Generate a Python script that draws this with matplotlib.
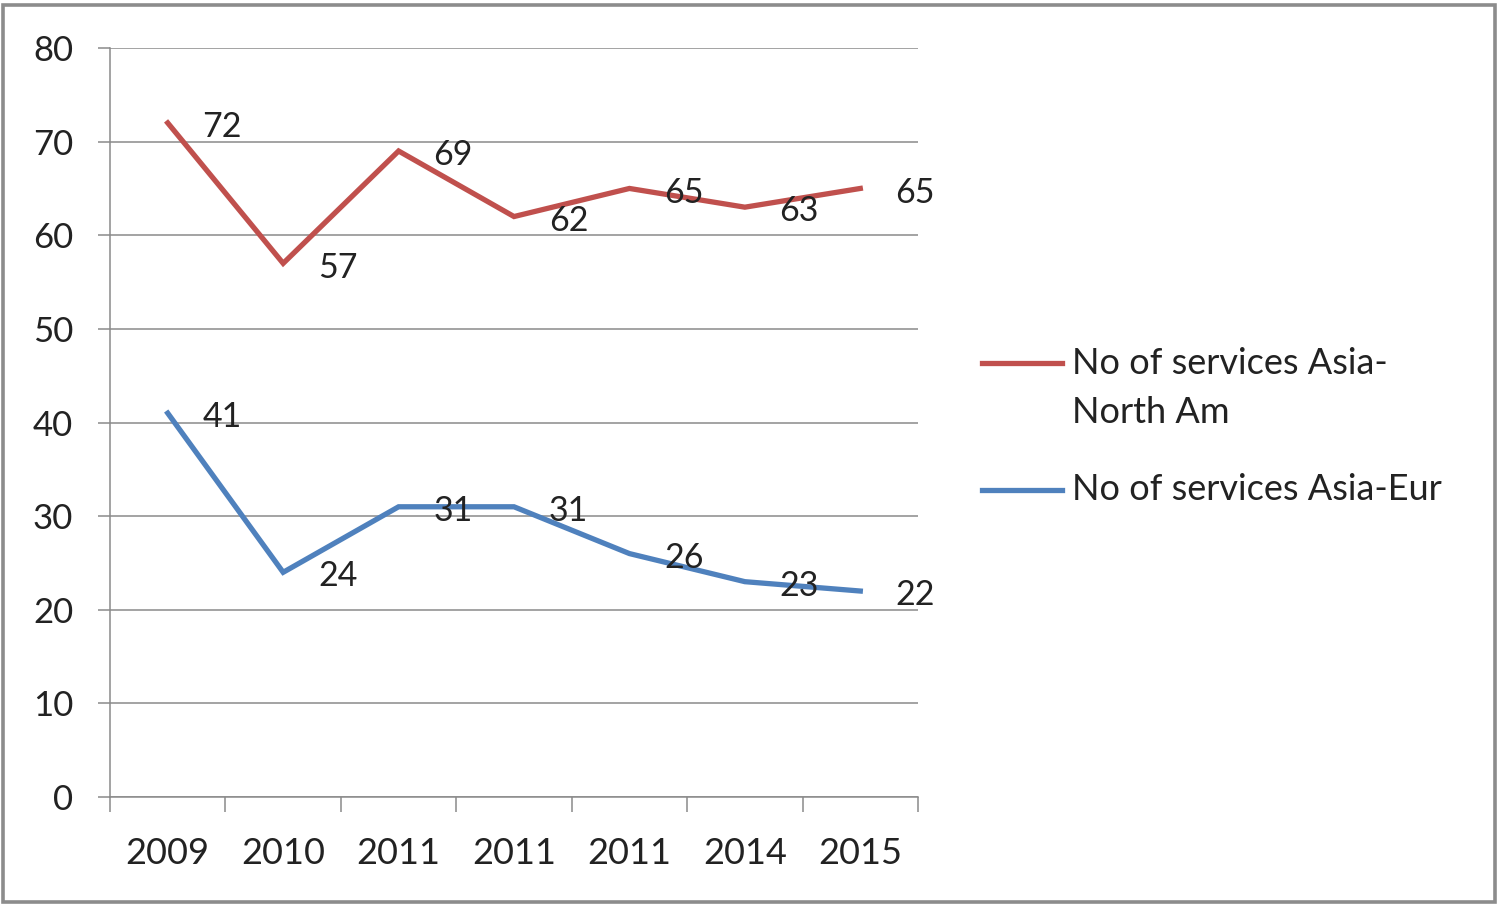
import matplotlib.pyplot as plt
from matplotlib.lines import Line2D
from matplotlib.patches import Rectangle

# data
years = ["2009", "2010", "2011", "2011", "2011", "2014", "2015"]
asia_na = [72, 57, 69, 62, 65, 63, 65]
asia_eur = [41, 24, 31, 31, 26, 23, 22]
labels = ["No of services Asia-\nNorth Am", "No of services Asia-Eur"]
colors = ["#C0504D", "#4F81BD"]

plt.rcParams["font.family"] = ["Lato", "DejaVu Sans"]
txt_col = "#222222"
grid_col = "#8a8a8a"

fig = plt.figure(figsize=(15.01, 9.06), dpi=100)
ax = fig.add_axes([0.0733, 0.1203, 0.5383, 0.8267])

x = list(range(len(years)))
for ys, c in zip([asia_na, asia_eur], colors):
    ax.plot(x, ys, color=c, lw=3.8, solid_joinstyle="miter")
    for xi, yi in zip(x, ys):
        ax.annotate(str(yi), (xi, yi), xytext=(25, -3), textcoords="offset points",
                    ha="left", va="center", fontsize=24.5, color=txt_col)

ax.set_xlim(-0.5, len(years) - 0.5)
ax.set_ylim(0, 80)
ax.set_yticks(range(0, 81, 10))
ax.yaxis.grid(True, color=grid_col, lw=1.1)
ax.set_axisbelow(True)

ax.set_xticks(x)
ax.set_xticklabels(years)
ax.set_xticks([i - 0.5 for i in range(len(years) + 1)], minor=True)
ax.tick_params(axis="x", which="major", length=0, pad=29, labelsize=26, labelcolor=txt_col)
ax.tick_params(axis="x", which="minor", length=11, width=1.1, color=grid_col)
ax.tick_params(axis="y", length=8.5, width=1.1, color=grid_col, pad=18,
               labelsize=25, labelcolor=txt_col)

for s in ["top", "right"]:
    ax.spines[s].set_visible(False)
for s in ["left", "bottom"]:
    ax.spines[s].set_color(grid_col)
    ax.spines[s].set_linewidth(1.1)

# legend drawn by hand so the line sits on the first text row
leg_rows = [0.5993, 0.4592]
for lab, c, yr in zip(labels, colors, leg_rows):
    fig.add_artist(Line2D([0.6542, 0.7075], [yr, yr], transform=fig.transFigure,
                          color=c, lw=3.8))
    for k, part in enumerate(lab.split("\n")):
        fig.text(0.7142, yr - k * 0.0541, part, ha="left", va="center",
                 fontsize=26, color=txt_col)

fig.add_artist(Rectangle((0.002, 0.004), 0.994, 0.99, transform=fig.transFigure,
                         fill=False, edgecolor="#8c8c8c", lw=2.6))

fig.savefig("out.png", dpi=100)
